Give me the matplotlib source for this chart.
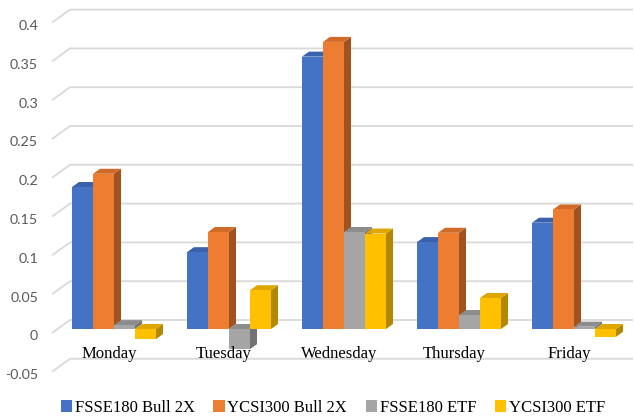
import matplotlib
matplotlib.use("Agg")
import matplotlib.pyplot as plt
from matplotlib.patches import Polygon
from matplotlib.transforms import ScaledTranslation
import numpy as np

categories = ["Monday", "Tuesday", "Wednesday", "Thursday", "Friday"]
series_names = ["FSSE180 Bull 2X", "YCSI300 Bull 2X", "FSSE180 ETF", "YCSI300 ETF"]
fsse180_bull = [0.183, 0.099, 0.351, 0.112, 0.137]
ycsi300_bull = [0.200, 0.125, 0.370, 0.124, 0.154]
fsse180_etf = [0.005, -0.026, 0.125, 0.018, 0.003]
ycsi300_etf = [-0.013, 0.050, 0.123, 0.040, -0.010]
yticks = [-0.05, 0, 0.05, 0.1, 0.15, 0.2, 0.25, 0.3, 0.35, 0.4]
ytick_labels = ["-0.05", "0", "0.05", "0.1", "0.15", "0.2", "0.25", "0.3", "0.35", "0.4"]

front_colors = ["#4472C4", "#ED7D31", "#A5A5A5", "#FFC000"]
top_colors = ["#3A62AC", "#CF6A28", "#8C8C8C", "#DDA700"]
side_colors = ["#2F5597", "#A0521F", "#737373", "#B38700"]

W, H, DPI = 634, 418, 100
fig = plt.figure(figsize=(W / DPI, H / DPI), dpi=DPI)

# axes geometry in pixels
ax_left_px, ax_right_px = 52, 633
ax = fig.add_axes([ax_left_px / W, 0, (ax_right_px - ax_left_px) / W, 1])
cat_px0, cat_step = 114, 115          # pixel x of first group centre, spacing
zero_px_from_bottom, px_per_unit = H - 329, 776
ax.set_xlim((ax_left_px - cat_px0) / cat_step, (ax_right_px - cat_px0) / cat_step)
ax.set_ylim(-zero_px_from_bottom / px_per_unit, (H - zero_px_from_bottom) / px_per_unit)
for s in ax.spines.values():
    s.set_visible(False)

px_x = 1.0 / cat_step
px_y = 1.0 / px_per_unit

# gridlines: front edge (label depth) -> back wall -> right
front_dy, back_dy = -4 * px_y, 9 * px_y
back_dx = 18 * px_x
x0 = ax.get_xlim()[0]
x1 = ax.get_xlim()[1]
for v in yticks:
    ax.plot([x0, x0 + back_dx, x1], [v + front_dy, v + back_dy, v + back_dy],
            color="#D9D9D9", lw=1.3, zorder=1, solid_capstyle="butt")

# y tick labels
ax.set_yticks(yticks)
ax.set_yticklabels(ytick_labels)
ax.tick_params(axis="y", length=0, pad=10, labelsize=10.3, labelcolor="#595959")
for lab in ax.get_yticklabels():
    lab.set_fontfamily("Lato")
    lab.set_transform(lab.get_transform() + ScaledTranslation(0, -0.065, fig.dpi_scale_trans))
ax.set_xticks([])

# 3D-like bars
data = [fsse180_bull, ycsi300_bull, fsse180_etf, ycsi300_etf]
bw = 21 * px_x
ddx, ddy = 7 * px_x, 5 * px_y
x = np.arange(len(categories))
z = 3
for i in range(len(categories)):
    for k in range(4):
        v = data[k][i]
        xl = x[i] + (k - 2) * bw
        xr = xl + bw
        top = max(v, 0)
        bot = min(v, 0)
        side = Polygon([(xr, bot), (xr, top), (xr + ddx, top + ddy), (xr + ddx, bot + ddy)],
                       closed=True, fc=side_colors[k], ec="none", zorder=z)
        topf = Polygon([(xl, top), (xr, top), (xr + ddx, top + ddy), (xl + ddx, top + ddy)],
                       closed=True, fc=top_colors[k], ec="none", zorder=z)
        ax.add_patch(side)
        ax.add_patch(topf)
        ax.bar(xl, v, width=bw, align="edge", color=front_colors[k], zorder=z + 0.5,
               edgecolor="none", linewidth=0)
        z += 1

# category labels (front floor)
for i, c in enumerate(categories):
    ax.text(x[i] - 5 * px_x, 0 - 25 * px_y, c, ha="center", va="center",
            fontsize=12, family="Liberation Serif", color="black", zorder=50)

# legend
handles = [plt.Rectangle((0, 0), 1, 1, fc=c, ec="none") for c in front_colors]
fig.legend(handles, series_names, loc="center", bbox_to_anchor=(0.525, 1 - 408 / H),
           ncol=4, frameon=False, prop={"family": "Liberation Serif", "size": 12},
           handlelength=0.7, handleheight=0.7, handletextpad=0.15, columnspacing=1.1)

fig.savefig("out.png", dpi=DPI)
